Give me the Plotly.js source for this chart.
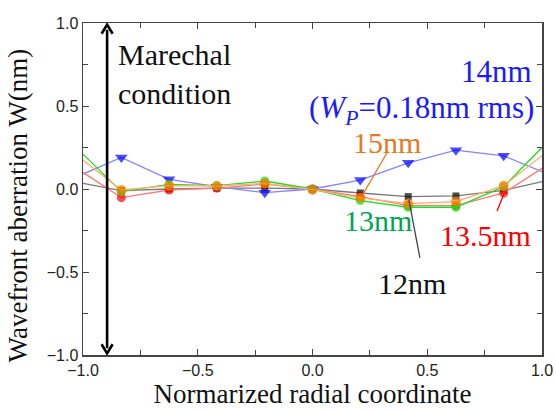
<!DOCTYPE html>
<html>
<head>
<meta charset="utf-8">
<script src="https://cdn.plot.ly/plotly-3.0.1.min.js"></script>
<style>html,body{margin:0;padding:0;background:#fff;}#chart{width:556px;height:410px;}</style>
</head>
<body>
<div id="chart"></div>
<script>
// Normalized radial coordinate
const radial = [-1, -0.833, -0.625, -0.417, -0.208, 0, 0.208, 0.417, 0.625, 0.833, 1];
// Wavefront aberration W (nm) for each wavelength
const w12nm   = [0.034, -0.01, 0.0, 0.005, 0.005, 0.0, -0.024, -0.046, -0.042, -0.008, 0.044];
const w14nm   = [0.09, 0.19, 0.058, 0.014, -0.022, 0.0, 0.054, 0.158, 0.234, 0.2, 0.104];
const w13_5nm = [0.1, -0.052, -0.006, 0.005, 0.03, 0.0, -0.046, -0.1, -0.1, -0.024, 0.124];
const w13nm   = [0.21, -0.016, 0.028, 0.02, 0.048, 0.0, -0.07, -0.11, -0.11, 0.014, 0.25];
const w15nm   = [0.174, -0.006, 0.02, 0.018, 0.034, -0.004, -0.054, -0.088, -0.076, 0.02, 0.2];

const seriesNames = ['12nm', '14nm', '13.5nm', '13nm', '15nm'];
const xTickVals = [-1.0, -0.5, 0.0, 0.5, 1.0];
const yTickVals = [-1.0, -0.5, 0.0, 0.5, 1.0];

function sizes(s) { return radial.map((v, i) => (i === 0 || i === radial.length - 1) ? 0 : s); }

function trace(y, name, lineColor, markColor, symbol, size) {
  return {
    x: radial, y: y, name: name, type: 'scatter', mode: 'lines+markers',
    line: {color: lineColor, width: 1.3},
    marker: {color: markColor, symbol: symbol, size: sizes(size), line: {width: 0}},
    cliponaxis: true
  };
}

const data = [
  trace(w12nm, seriesNames[0], '#7a7a7a', '#000000', 'square', 7),
  trace(w14nm, seriesNames[1], '#8484ff', '#0000ff', 'triangle-down', 11),
  trace(w13_5nm, seriesNames[2], '#ff7a7a', '#ff0000', 'circle', 9),
  trace(w13nm, seriesNames[3], '#22dd22', '#11dd11', 'circle', 9),
  trace(w15nm, seriesNames[4], '#ffb070', '#ff7f00', 'circle', 10)
];

const serif = 'Liberation Serif, Times New Roman, serif';
const axisCommon = {
  showgrid: false, zeroline: false, showline: true, linecolor: '#444', linewidth: 1.5,
  mirror: 'ticks', ticks: 'inside', ticklen: 6, tickwidth: 1, tickcolor: '#444',
  tickfont: {family: 'Liberation Sans, Arial, sans-serif', size: 16, color: '#222'},
  minor: {dtick: 0.25, ticks: 'inside', ticklen: 5, tickwidth: 1, tickcolor: '#444'},
  tickformat: '.1f'
};

const layout = {
  width: 556, height: 410,
  margin: {l: 83, r: 14, t: 23, b: 55},
  paper_bgcolor: '#fff', plot_bgcolor: '#fff',
  showlegend: false,
  xaxis: Object.assign({}, axisCommon, {
    range: [-1, 1], tickvals: xTickVals,
    title: {text: 'Normarized radial coordinate', font: {family: serif, size: 27, color: '#111'}, standoff: 4}
  }),
  yaxis: Object.assign({}, axisCommon, {
    range: [-1, 1], tickvals: yTickVals
  }),
  shapes: [
    {type: 'line', xref: 'x', yref: 'y', x0: -0.895, y0: 0.96, x1: -0.895, y1: -0.96, line: {color: '#000', width: 2.6}},
    {type: 'line', xref: 'x', yref: 'y', x0: 0.329, y0: 0.229, x1: 0.216, y1: -0.04, line: {color: '#e87722', width: 1.3}},
    {type: 'line', xref: 'x', yref: 'y', x0: 0.468, y0: -0.415, x1: 0.42, y1: -0.066, line: {color: '#444', width: 1.3}},
    {type: 'line', xref: 'x', yref: 'y', x0: 0.804, y0: -0.132, x1: 0.834, y1: -0.03, line: {color: '#ff0000', width: 1.3}}
  ],
  annotations: [
    {x: -0.142, y: 0.45, xref: 'paper', yref: 'paper', xanchor: 'center', yanchor: 'middle', textangle: -90,
     text: 'Wavefront aberration W(nm)', showarrow: false, font: {family: serif, size: 27, color: '#111'}},
    {x: -0.855, y: 0.69, xref: 'x', yref: 'y', xanchor: 'left', yanchor: 'middle', align: 'left',
     text: 'Marechal<br>condition', showarrow: false, font: {family: serif, size: 30, color: '#111'},
     ax: -0.895, ay: 0.985, axref: 'x', ayref: 'y'},
    {x: 0.963, y: 0.71, xref: 'x', yref: 'y', xanchor: 'right', yanchor: 'middle', align: 'right',
     text: '14nm', showarrow: false, font: {family: serif, size: 31, color: '#1a1aff'}},
    {x: 0.975, y: 0.475, xref: 'x', yref: 'y', xanchor: 'right', yanchor: 'middle', align: 'right',
     text: '(<i>W</i><sub><i>P</i></sub>=0.18nm rms)', showarrow: false, font: {family: serif, size: 31, color: '#1a1aff'}},
    {x: 0.325, y: 0.28, xref: 'x', yref: 'y', xanchor: 'center', yanchor: 'middle',
     text: '15nm', showarrow: false, font: {family: serif, size: 30, color: '#e87722'}},
    {x: 0.285, y: -0.19, xref: 'x', yref: 'y', xanchor: 'center', yanchor: 'middle',
     text: '13nm', showarrow: false, font: {family: serif, size: 30, color: '#00a651'}},
    {x: 0.752, y: -0.283, xref: 'x', yref: 'y', xanchor: 'center', yanchor: 'middle',
     text: '13.5nm', showarrow: false, font: {family: serif, size: 30, color: '#ff0000'}},
    {x: 0.434, y: -0.571, xref: 'x', yref: 'y', xanchor: 'center', yanchor: 'middle',
     text: '12nm', showarrow: false, font: {family: serif, size: 30, color: '#111'}}
  ]
};

// Arrowheads of the Marechal-condition double arrow (drawn as two open chevrons)
layout.shapes.push(
  {type: 'path', xref: 'x', yref: 'y', path: 'M -0.919,0.935 L -0.895,0.99 L -0.871,0.935', line: {color: '#000', width: 2.6}},
  {type: 'path', xref: 'x', yref: 'y', path: 'M -0.919,-0.935 L -0.895,-0.99 L -0.871,-0.935', line: {color: '#000', width: 2.6}}
);

Plotly.newPlot('chart', data, layout, {displayModeBar: false, staticPlot: true});
</script>
</body>
</html>
